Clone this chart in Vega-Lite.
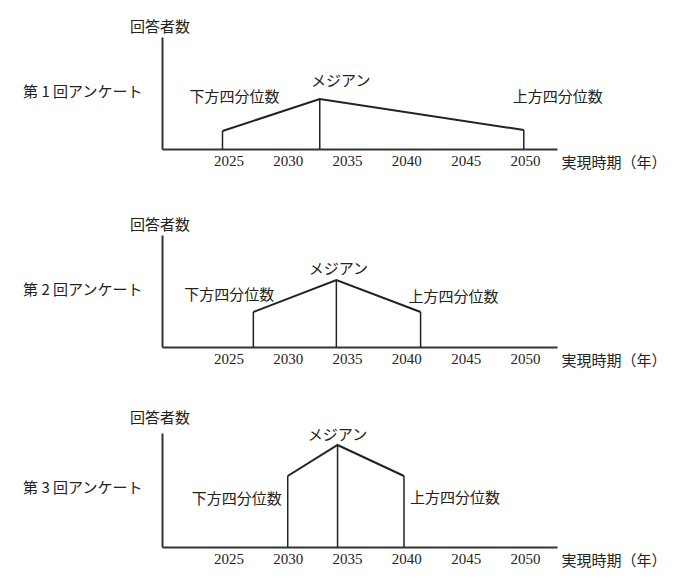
{
  "$schema": "https://vega.github.io/schema/vega-lite/v6.json",
  "background": "white",
  "padding": {"left": 21, "top": 20, "right": 5, "bottom": 5},
  "datasets": {
    "surveys": [
      {"survey": "第 1 回アンケート", "point": "下方四分位数", "year": 2024.5, "count": 18},
      {"survey": "第 1 回アンケート", "point": "メジアン", "year": 2032.7, "count": 50},
      {"survey": "第 1 回アンケート", "point": "上方四分位数", "year": 2049.9, "count": 19},
      {"survey": "第 2 回アンケート", "point": "下方四分位数", "year": 2027.1, "count": 35},
      {"survey": "第 2 回アンケート", "point": "メジアン", "year": 2034.1, "count": 67},
      {"survey": "第 2 回アンケート", "point": "上方四分位数", "year": 2041.2, "count": 35},
      {"survey": "第 3 回アンケート", "point": "下方四分位数", "year": 2030, "count": 71},
      {"survey": "第 3 回アンケート", "point": "メジアン", "year": 2034.2, "count": 102},
      {"survey": "第 3 回アンケート", "point": "上方四分位数", "year": 2039.8, "count": 71}
    ]
  },
  "vconcat": [
    {
      "width": 395,
      "height": 112,
      "data": {"name": "surveys"},
      "title": {"text": "回答者数", "anchor": "start", "frame": "group", "dx": -32, "offset": 2},
      "transform": [{"filter": "datum.survey === '第 1 回アンケート'"}],
      "encoding": {
        "x": {
          "field": "year",
          "type": "quantitative",
          "scale": {"domain": [2019.4, 2052.7], "nice": false, "zero": false},
          "axis": {"values": [2025, 2030, 2035, 2040, 2045, 2050], "format": "d", "title": "実現時期（年）"}
        },
        "y": {
          "field": "count",
          "type": "quantitative",
          "scale": {"domain": [0, 112], "nice": false},
          "axis": {"title": "第 1 回アンケート"}
        }
      },
      "layer": [
        {"mark": {"type": "line", "stroke": "#222", "strokeWidth": 2}},
        {"mark": {"type": "rule", "stroke": "#222", "strokeWidth": 1.5}, "encoding": {"y2": {"datum": 0}}},
        {
          "transform": [{"filter": "datum.point === '下方四分位数'"}],
          "mark": {"type": "text", "dx": 12, "dy": -34},
          "encoding": {"text": {"field": "point"}}
        },
        {
          "transform": [{"filter": "datum.point === 'メジアン'"}],
          "mark": {"type": "text", "dx": 21, "dy": -18},
          "encoding": {"text": {"field": "point"}}
        },
        {
          "transform": [{"filter": "datum.point === '上方四分位数'"}],
          "mark": {"type": "text", "dx": 34, "dy": -33},
          "encoding": {"text": {"field": "point"}}
        }
      ]
    },
    {
      "width": 395,
      "height": 112,
      "data": {"name": "surveys"},
      "title": {"text": "回答者数", "anchor": "start", "frame": "group", "dx": -32, "offset": 2},
      "transform": [{"filter": "datum.survey === '第 2 回アンケート'"}],
      "encoding": {
        "x": {
          "field": "year",
          "type": "quantitative",
          "scale": {"domain": [2019.4, 2052.7], "nice": false, "zero": false},
          "axis": {"values": [2025, 2030, 2035, 2040, 2045, 2050], "format": "d", "title": "実現時期（年）"}
        },
        "y": {
          "field": "count",
          "type": "quantitative",
          "scale": {"domain": [0, 112], "nice": false},
          "axis": {"title": "第 2 回アンケート"}
        }
      },
      "layer": [
        {"mark": {"type": "line", "stroke": "#222", "strokeWidth": 2}},
        {"mark": {"type": "rule", "stroke": "#222", "strokeWidth": 1.5}, "encoding": {"y2": {"datum": 0}}},
        {
          "transform": [{"filter": "datum.point === '下方四分位数'"}],
          "mark": {"type": "text", "dx": -24, "dy": -17},
          "encoding": {"text": {"field": "point"}}
        },
        {
          "transform": [{"filter": "datum.point === 'メジアン'"}],
          "mark": {"type": "text", "dx": 2, "dy": -11},
          "encoding": {"text": {"field": "point"}}
        },
        {
          "transform": [{"filter": "datum.point === '上方四分位数'"}],
          "mark": {"type": "text", "dx": 33, "dy": -15},
          "encoding": {"text": {"field": "point"}}
        }
      ]
    },
    {
      "width": 395,
      "height": 114,
      "data": {"name": "surveys"},
      "title": {"text": "回答者数", "anchor": "start", "frame": "group", "dx": -32, "offset": 2},
      "transform": [{"filter": "datum.survey === '第 3 回アンケート'"}],
      "encoding": {
        "x": {
          "field": "year",
          "type": "quantitative",
          "scale": {"domain": [2019.4, 2052.7], "nice": false, "zero": false},
          "axis": {"values": [2025, 2030, 2035, 2040, 2045, 2050], "format": "d", "title": "実現時期（年）"}
        },
        "y": {
          "field": "count",
          "type": "quantitative",
          "scale": {"domain": [0, 114], "nice": false},
          "axis": {"title": "第 3 回アンケート"}
        }
      },
      "layer": [
        {"mark": {"type": "line", "stroke": "#222", "strokeWidth": 2}},
        {"mark": {"type": "rule", "stroke": "#222", "strokeWidth": 1.5}, "encoding": {"y2": {"datum": 0}}},
        {
          "transform": [{"filter": "datum.point === '下方四分位数'"}],
          "mark": {"type": "text", "align": "right", "dx": -6, "dy": 23},
          "encoding": {"text": {"field": "point"}}
        },
        {
          "transform": [{"filter": "datum.point === 'メジアン'"}],
          "mark": {"type": "text", "dx": 0, "dy": -10},
          "encoding": {"text": {"field": "point"}}
        },
        {
          "transform": [{"filter": "datum.point === '上方四分位数'"}],
          "mark": {"type": "text", "align": "left", "dx": 6, "dy": 22},
          "encoding": {"text": {"field": "point"}}
        }
      ]
    }
  ],
  "spacing": 86,
  "bounds": "flush",
  "config": {
    "view": {"stroke": null},
    "font": "Noto Sans CJK JP",
    "title": {"font": "Noto Sans CJK JP", "fontSize": 15, "fontWeight": "normal", "color": "#222"},
    "text": {"font": "Noto Sans CJK JP", "fontSize": 15, "color": "#222", "baseline": "middle"},
    "axis": {
      "domainColor": "#333",
      "domainWidth": 2,
      "ticks": false,
      "grid": false,
      "titleFont": "Noto Sans CJK JP",
      "titleFontSize": 15,
      "titleFontWeight": "normal",
      "titleColor": "#222"
    },
    "axisX": {
      "labelFont": "Liberation Serif",
      "labelFontSize": 15,
      "labelColor": "#222",
      "labelPadding": 4,
      "titleAlign": "left",
      "titleBaseline": "middle",
      "titleX": 399,
      "titleY": 13
    },
    "axisY": {
      "labels": false,
      "titleAngle": 0,
      "titleAlign": "right",
      "titleBaseline": "middle",
      "titleX": -20,
      "titleY": 54
    }
  }
}
